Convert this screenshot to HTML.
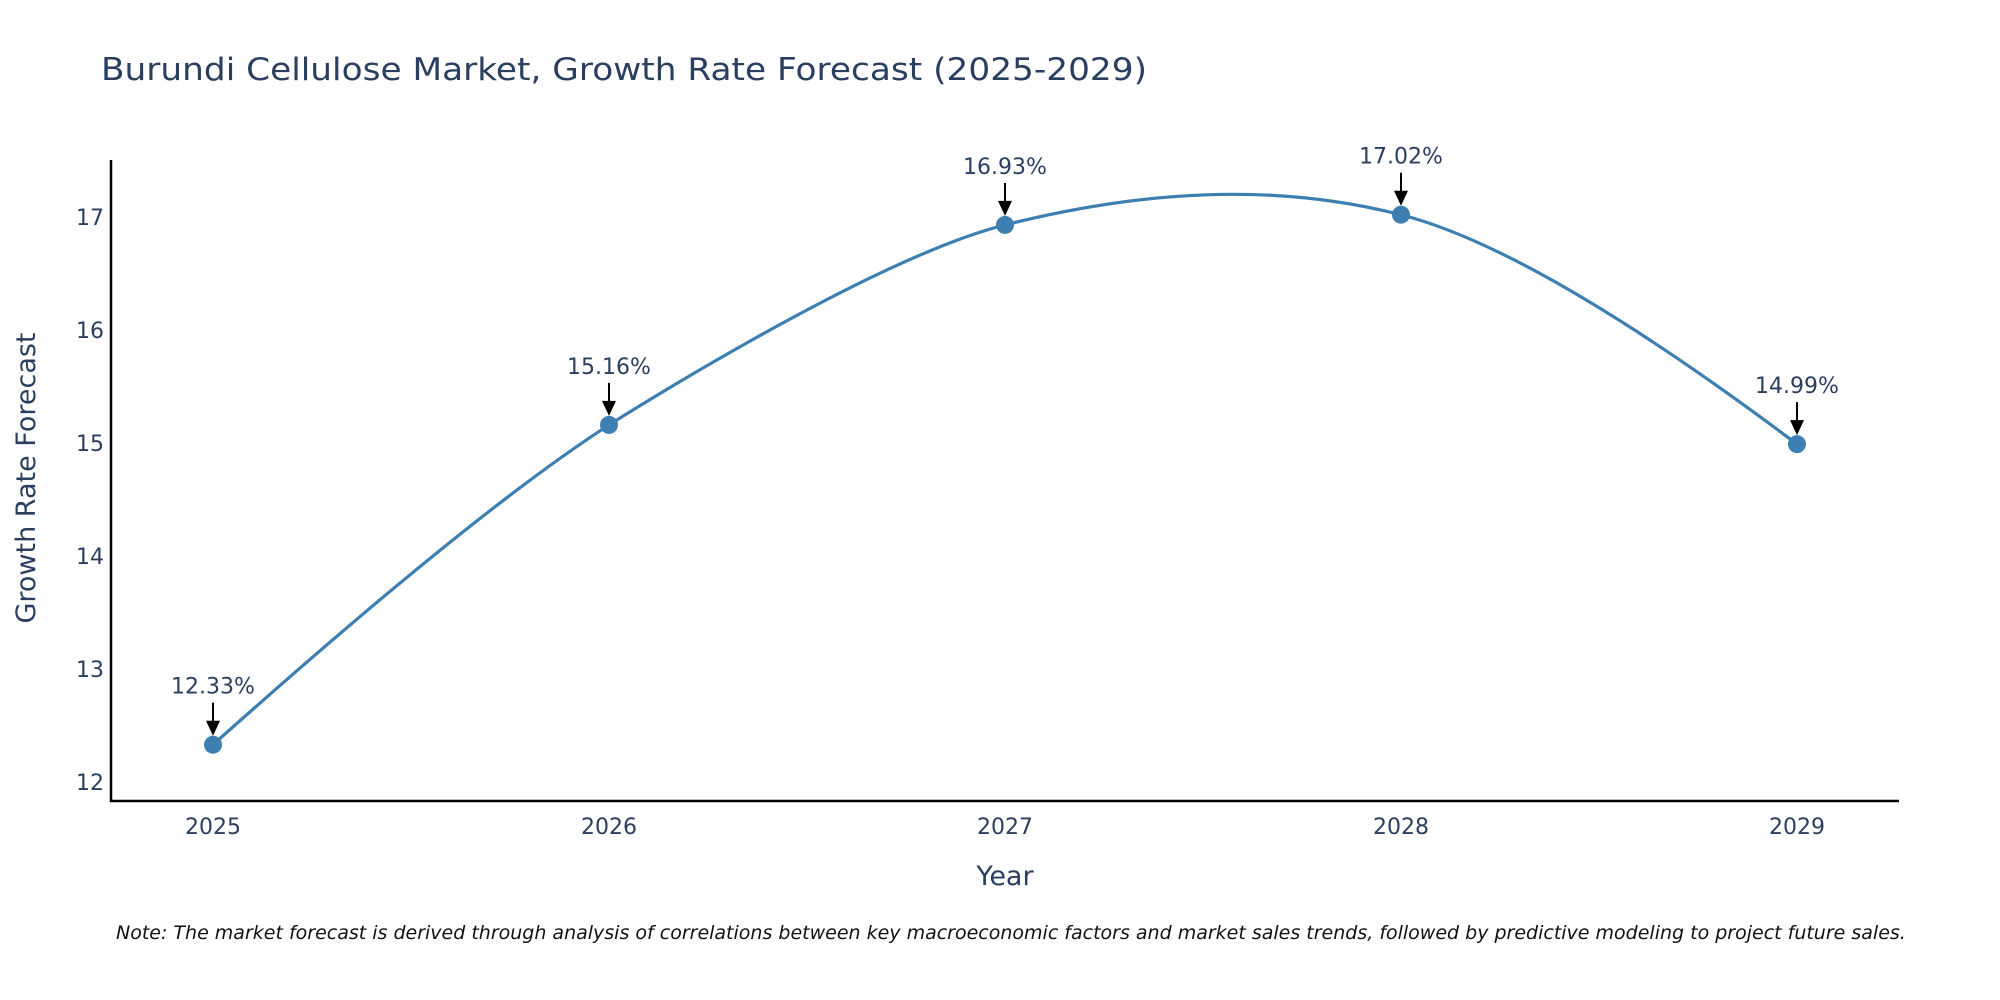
<!DOCTYPE html>
<html>
<head>
<meta charset="utf-8">
<style>
  html,body{margin:0;padding:0;background:#fff;}
  svg{display:block;font-family:"DejaVu Sans","Liberation Sans",Arial,sans-serif;}
</style>
</head>
<body>
<svg id="chart" width="2000" height="1000" viewBox="0 0 2000 1000" xmlns="http://www.w3.org/2000/svg">
  <rect width="2000" height="1000" fill="#ffffff"/>
  <text x="101" y="80" font-size="31" fill="#2a3f5f" textLength="1046" lengthAdjust="spacingAndGlyphs">Burundi Cellulose Market, Growth Rate Forecast (2025-2029)</text>
  <g id="plot"></g>
  <line x1="111" y1="160" x2="111" y2="802" stroke="#000" stroke-width="2.5"/>
  <line x1="110" y1="801" x2="1899" y2="801" stroke="#000" stroke-width="2.5"/>
  <text transform="translate(35,478) rotate(-90)" text-anchor="middle" font-size="27" fill="#2a3f5f">Growth Rate Forecast</text>
  <text x="1005" y="885" text-anchor="middle" font-size="27" fill="#2a3f5f">Year</text>
  <text x="116" y="939" font-size="19" font-style="italic" fill="#111">Note: The market forecast is derived through analysis of correlations between key macroeconomic factors and market sales trends, followed by predictive modeling to project future sales.</text>
</svg>
<script>
const years = [2025, 2026, 2027, 2028, 2029];
const growthValues = [12.33, 15.16, 16.93, 17.02, 14.99];
const yTickValues = [12, 13, 14, 15, 16, 17];
const xTickLabels = ["2025", "2026", "2027", "2028", "2029"];

const NS = "http://www.w3.org/2000/svg";
const plot = document.getElementById("plot");
function xScale(v){ return 213 + (v - 2025) * (1797 - 213) / 4; }
function yScale(v){ return 782 - (v - 12) * (782 - 217) / 5; }
function mk(tag, attrs){ const e = document.createElementNS(NS, tag); for (const k in attrs) e.setAttribute(k, attrs[k]); plot.appendChild(e); return e; }

yTickValues.forEach(v => {
  const t = mk("text", {x: 104, y: yScale(v) + 8, "text-anchor": "end", "font-size": 22, fill: "#2a3f5f"});
  
  
  t.textContent = v;
});
years.forEach((yr, i) => {
  const t = mk("text", {x: xScale(yr), y: 834, "text-anchor": "middle", "font-size": 22, fill: "#2a3f5f"});
  
  
  t.textContent = xTickLabels[i];
});

const pts = years.map((yr, i) => [xScale(yr), yScale(growthValues[i])]);
function tangent(p0, p1, p2){
  const d1x = p0[0]-p1[0], d1y = p0[1]-p1[1], d2x = p2[0]-p1[0], d2y = p2[1]-p1[1];
  const d1a = Math.pow(d1x*d1x+d1y*d1y, 0.25), d2a = Math.pow(d2x*d2x+d2y*d2y, 0.25);
  const nx = d2a*d2a*d1x - d1a*d1a*d2x, ny = d2a*d2a*d1y - d1a*d1a*d2y;
  const den1 = 3*d2a*(d1a+d2a), den2 = 3*d1a*(d1a+d2a);
  return [[p1[0]+nx/den1, p1[1]+ny/den1], [p1[0]-nx/den2, p1[1]-ny/den2]];
}
const tans = [];
for (let i = 1; i < pts.length - 1; i++) tans.push(tangent(pts[i-1], pts[i], pts[i+1]));
let d = "M" + pts[0] + "Q" + tans[0][0] + " " + pts[1];
for (let i = 2; i < pts.length - 1; i++) d += "S" + tans[i-1][0] + " " + pts[i];
d += "Q" + tans[pts.length-3][1] + " " + pts[pts.length-1];
const line = mk("path", {d: d, fill: "none", stroke: "#3d7fb1", "stroke-width": 3.2});



pts.forEach((p, i) => {
  const c = mk("circle", {cx: p[0], cy: p[1], r: 9, fill: "#3d7fb1"});
  
  
  const a = mk("line", {x1: p[0], y1: p[1]-42, x2: p[0], y2: p[1]-22, stroke: "#000", "stroke-width": 2});
  
  
  const h = mk("path", {d: `M${p[0]-7},${p[1]-24} L${p[0]+7},${p[1]-24} L${p[0]},${p[1]-9} Z`, fill: "#000"});
  
  
  const t = mk("text", {x: p[0], y: p[1]-51, "text-anchor": "middle", "font-size": 22, fill: "#2a3f5f"});
  
  
  t.textContent = growthValues[i].toFixed(2) + "%";
});
</script>
</body>
</html>
